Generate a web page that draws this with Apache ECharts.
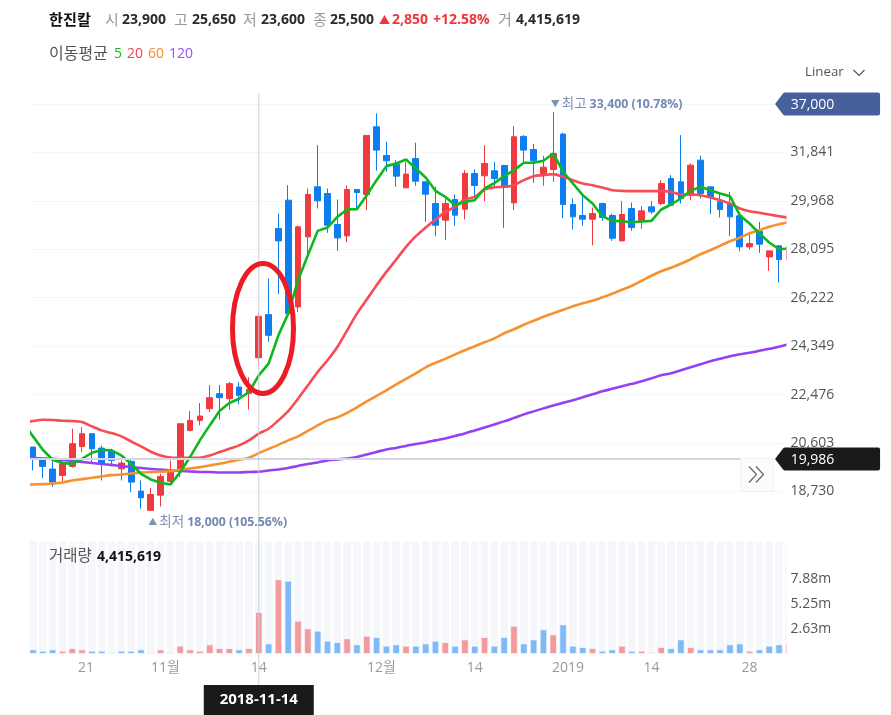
<!DOCTYPE html>
<html>
<head>
<meta charset="utf-8">
<style>
html, body { margin: 0; padding: 0; background: #fff; }
#chart { width: 891px; height: 715px; }
</style>
<script src="https://cdn.jsdelivr.net/npm/echarts@6/dist/echarts.min.js"></script>
</head>
<body>
<div id="chart"></div>
<script>
// daily candles
var opens = [20446,19956,19595,19350,19698,20472,20962,20407,20291,19607,19891,18743,18000,18588,19117,19543,21091,21478,21929,22510,
    22316,22768,22523,23900,25567,28895,29992,25864,28573,30508,30250,29050,28612,30405,30211,32830,31721,31385,30469,31605,
    30702,29863,29218,30018,29644,31024,30934,31127,31334,29889,32456,31953,30972,31179,32546,29824,29399,29257,29863,29399,
    28418,29669,29192,29734,29863,30830,30701,30185,31540,30508,29928,29863,29386,28186,28792,27799,28225,27700];
var closes = [20033,19698,19091,19801,20575,20962,20381,19827,19930,19827,19091,18485,18614,19311,19478,21349,21478,21646,22355,22355,
    22897,22445,22677,25500,24768,28418,25606,28960,30211,29966,29025,28534,30405,30289,32495,31927,31514,30921,31000,30727,
    30224,29025,29863,29411,31024,30560,31411,30830,30482,32443,31927,31514,31269,31798,29824,29347,29257,29476,29321,28521,
    29437,28934,29579,29541,30637,29798,30056,31346,30250,30095,29631,29347,28186,28315,28289,28031,27696,28200];
var lows = [19543,19246,18898,19117,19646,20252,19801,19156,19698,19156,18704,18060,18000,18150,19027,19285,21052,21284,21800,21504,
    21891,22097,21891,23600,24510,26354,25606,25670,27799,29670,28728,28031,28367,29670,29605,31127,31088,30508,30469,30547,
    29153,28599,28444,29000,29244,30120,29953,30482,28921,29605,31411,30663,30547,30701,29295,28857,28999,28250,29192,28418,
    28418,28805,28883,29450,29799,29799,29863,29992,30056,29450,29321,28612,28018,28083,27954,27257,26806,26900];
var highs = [20446,19956,19930,19930,21155,21220,20962,20510,20382,19930,19956,19156,18859,19414,19930,21349,21839,22149,22845,22845,
    22961,22961,23142,25650,26960,29476,30572,29012,30444,32120,30444,30018,30560,30405,32495,33346,32250,31540,31476,32211,
    30702,30508,30056,30211,31153,31180,32120,31476,31334,32856,32507,32159,31708,33400,32598,30056,30147,29708,29889,29476,
    29953,29902,29760,29953,30766,30960,32507,31411,31708,30508,30250,30314,29386,28766,29153,28031,28250,28500];

// moving averages start one day before the first candle, that day is cut off by the left edge
var ma5 = [21400,20859,20343,19956,19827,19801,19994,20227,20330,20317,20124,19801,19414,19195,19066,19001,19478,20059,20704,21284,21839,
    22149,22316,22574,23220,23671,24767,25606,26896,27863,28805,28934,29347,29631,29644,30185,30766,31308,31411,31566,31217,
    30869,30353,30121,29798,29927,29992,30443,30650,30921,31153,31437,31437,31514,31798,31088,30637,30185,29863,29373,29192,
    29179,29141,29166,29192,29631,29824,30056,30353,30508,30379,30250,30147,29411,29089,28702,28354,28096,28121];
var ma20 = [21380,21452,21504,21491,21465,21452,21413,21246,21091,20988,20859,20665,20472,20265,20124,20046,20033,20033,20033,20124,20252,
    20381,20510,20704,20962,21155,21478,21839,22316,22832,23348,23800,24316,24961,25606,26148,26702,27219,27696,28186,28599,
    28934,29244,29540,29734,30018,30121,30405,30490,30508,30572,30766,30921,30960,30998,30895,30766,30637,30572,30482,30379,
    30353,30340,30340,30340,30340,30315,30211,30211,30185,30095,29992,29863,29669,29566,29502,29437,29373,29308];
var ma60 = [18980,19001,19014,19040,19079,19156,19208,19259,19311,19362,19388,19427,19465,19478,19491,19517,19569,19620,19672,19737,19801,
    19879,19956,20033,20210,20375,20530,20704,20859,21071,21284,21478,21594,21768,21981,22213,22426,22639,22871,23084,23297,
    23529,23703,23858,24032,24187,24342,24496,24651,24845,24999,25174,25328,25483,25619,25754,25890,26006,26102,26238,26373,
    26528,26683,26876,27070,27244,27379,27534,27708,27902,28057,28231,28405,28540,28715,28831,28966,29063,29140];
var ma120 = [20030,20026,20007,19988,19949,19910,19872,19833,19794,19756,19717,19678,19639,19601,19581,19543,19523,19504,19485,19485,19465,
    19465,19465,19485,19492,19543,19581,19639,19717,19794,19852,19930,19968,20007,20065,20162,20259,20355,20413,20491,20568,
    20626,20704,20781,20878,20975,21091,21207,21323,21439,21574,21710,21826,21942,22058,22155,22252,22368,22484,22600,22697,
    22794,22890,22987,23103,23219,23297,23413,23529,23645,23761,23858,23955,24032,24090,24167,24245,24322,24419];

// volume in millions
var volumes = [0.49,0.35,0.49,0.35,0.63,0.49,0.35,0.35,0.21,0.35,0.35,0.49,0.21,0.49,0.21,0.88,0.49,0.35,1.02,0.63,
    0.63,0.49,0.63,4.42,1.12,7.86,7.72,3.51,2.70,2.46,1.40,1.26,1.65,1.02,1.93,1.79,0.88,1.02,0.88,0.88,
    1.12,1.40,1.26,0.88,1.54,0.88,1.79,0.88,1.79,2.98,1.12,1.54,2.60,2.07,3.12,0.88,0.74,0.63,0.35,0.49,
    0.88,0.35,0.35,0.21,0.74,0.63,1.54,0.74,0.49,0.49,0.49,1.02,1.12,0.35,0.49,0.88,1.02,1.12];
var volumeUp = [0,0,0,1,1,1,0,0,1,0, 0,0,1,1,1,1,1,1,1,1, 1,0,1,1,0,1,0,1,1,0, 0,0,1,0,1,0,0,0,1,0,
    0,0,1,0,1,0,1,0,0,1, 0,0,0,1,0,0,0,1,0,0, 1,0,1,1,1,0,0,1,0,0, 0,0,0,1,0,0,0,1];

var xTickPositions = [5.4, 13.5, 23, 35.5, 45, 54.5, 63, 73];
var xTickLabels = ['21', '11월', '14', '12월', '14', '2019', '14', '28'];
var priceTicks = [18730, 20603, 22476, 24349, 26222, 28095, 29968, 31841];
var volumeTicks = [2.63, 5.25, 7.88];

var hoverIndex = 23;
var hoverDate = '2018-11-14';
var currentPrice = 19986;
var topTickValue = 33714;
var topTickLabel = '37,000';
var highIndex = 53, highPrice = 33400, highText = '33,400 (10.78%)';
var lowIndex = 12, lowPrice = 18000, lowText = '18,000 (105.56%)';

var FONT = '"Open Sans", "Noto Sans CJK KR", sans-serif';
var RED = '#ef3a3f', BLUE = '#0d7ef0';
var XMIN = -0.306, XMAX = 76.76;
var PRICE_MIN = 16857, PRICE_MAX = 34116, PRICE_STEP = 1873;

var candleData = opens.map(function(o, i) { return [i, o, closes[i], lows[i], highs[i]]; });
function lineData(arr) { return arr.map(function(v, i) { return [i - 1, v]; }); }
var volumeData = volumes.map(function(v, i) {
    return { value: [i, v], itemStyle: { color: volumeUp[i] ? '#f4999c' : '#80b9f8' } };
});

function maSeries(name, arr, color, smooth) {
    return {
        name: name, type: 'line', data: lineData(arr), showSymbol: false, silent: true, smooth: smooth,
        lineStyle: { color: color, width: 2.6 }, z: 3
    };
}

// arrow-shaped price tag on the right side of the price axis
var tagPath = 'path://M0 11.5 L8 1 Q9 0 10 0 H103 Q105 0 105 2 V21 Q105 23 103 23 H10 Q9 23 8 22 Z';
function priceTag(value, text, color) {
    return {
        coord: [76, value], symbol: tagPath, symbolSize: [105, 23], symbolOffset: [48.5, 0],
        itemStyle: { color: color },
        label: { show: true, position: 'inside', offset: [-15, 1], formatter: text, color: '#fff', fontSize: 14, fontFamily: FONT }
    };
}
function extremeNote(index, price, arrow, word, text, dx, dy) {
    return {
        coord: [index, price], symbol: 'circle', symbolSize: 1, itemStyle: { color: 'rgba(0,0,0,0)' },
        label: {
            show: true, position: 'right', offset: [dx, dy], fontFamily: FONT,
            formatter: '{c|' + arrow + '}{a|' + word + '}{b|' + text + '}',
            rich: {
                c: { color: '#7f90b8', fontSize: 9, fontFamily: FONT, padding: [0, 2, 0, 0] },
                a: { color: '#7f90b8', fontSize: 13.5, fontFamily: FONT, padding: [0, 3, 0, 0] },
                b: { color: '#7488b6', fontSize: 12.3, fontWeight: 'bold', fontFamily: FONT }
            }
        }
    };
}

var chart = echarts.init(document.getElementById('chart'));
var option = {
    animation: false,
    backgroundColor: '#fff',
    grid: [
        { left: 30, width: 756.5, top: 93.5, height: 446.4 },
        { left: 30, width: 756.5, top: 541, height: 113 }
    ],
    xAxis: [
        { type: 'value', gridIndex: 0, min: XMIN, max: XMAX, show: false, splitLine: { show: false } },
        {
            type: 'value', gridIndex: 1, min: XMIN, max: XMAX,
            axisLine: { show: false }, axisTick: { show: false }, splitLine: { show: false },
            axisLabel: {
                customValues: xTickPositions, color: '#9a9a9a', fontSize: 14, margin: 7, fontFamily: FONT,
                formatter: function(v) { return xTickLabels[xTickPositions.indexOf(v)]; }
            }
        }
    ],
    yAxis: [
        {
            // grid lines only, they stay under the candles
            type: 'value', gridIndex: 0, position: 'right', min: PRICE_MIN, max: PRICE_MAX, interval: PRICE_STEP,
            axisLine: { show: false }, axisTick: { show: false }, axisLabel: { show: false },
            splitLine: { show: true, showMinLine: false, showMaxLine: false, lineStyle: { color: '#f5f6fa', width: 1 } }
        },
        {
            type: 'value', gridIndex: 1, position: 'right', min: 0, max: 11.89, z: 16,
            axisLine: { show: false }, axisTick: { show: false }, splitLine: { show: false },
            axisLabel: {
                customValues: volumeTicks, color: '#555', fontSize: 14, margin: 4, fontFamily: FONT,
                formatter: function(v) { return v.toFixed(2) + 'm'; }
            }
        },
        {
            // price labels, above the edge mask
            type: 'value', gridIndex: 0, position: 'right', min: PRICE_MIN, max: PRICE_MAX, interval: PRICE_STEP, z: 16,
            axisLine: { show: false }, axisTick: { show: false }, splitLine: { show: false },
            axisLabel: {
                customValues: priceTicks, color: '#555', fontSize: 14, margin: 4, padding: [3, 0, 0, 0], fontFamily: FONT,
                formatter: function(v) { return v.toLocaleString('en-US'); }
            }
        }
    ],
    series: [
        {
            type: 'candlestick', name: '한진칼', data: candleData, barWidth: 6.2, silent: true,
            itemStyle: { color: RED, color0: BLUE, borderColor: RED, borderColor0: BLUE, borderWidth: 1 },
            markLine: {
                silent: true, symbol: 'none', label: { show: false }, animation: false,
                lineStyle: { color: '#d4d7e1', width: 2, type: 'solid' },
                data: [[{ coord: [XMIN, currentPrice] }, { coord: [72.1, currentPrice] }]]
            },
            markPoint: {
                silent: true, animation: false, z: 17,
                data: [
                    priceTag(topTickValue, topTickLabel, '#47609c'),
                    priceTag(currentPrice, currentPrice.toLocaleString('en-US'), '#1a1a1a'),
                    extremeNote(highIndex, highPrice, '▼', '최고', highText, -8, -8),
                    extremeNote(lowIndex, lowPrice, '▲', '최저', lowText, -8, 12)
                ]
            }
        },
        maSeries('120', ma120, '#9441f4', 0.3),
        maSeries('60', ma60, '#f7912e', 0.3),
        maSeries('20', ma20, '#f84b55', 0.3),
        maSeries('5', ma5, '#0cb81e', false),
        {
            type: 'bar', name: '거래량', xAxisIndex: 1, yAxisIndex: 1, data: volumeData, barWidth: 7.6, silent: true,
            showBackground: true, backgroundStyle: { color: '#f5f7fb' },
            itemStyle: { borderColor: 'rgba(245,247,251,0.8)', borderWidth: 1 }
        }
    ]
};
chart.setOption(option);

function label(x, y, text, color, weight, size) {
    return {
        type: 'text', x: x, y: y, z: 20,
        style: {
            text: text, fill: color, verticalAlign: 'middle',
            font: (weight || 'normal') + ' ' + (size || 14) + 'px ' + FONT
        }
    };
}

// header rows, hover line and the hand-drawn circle sit on top of the chart
var crossX = chart.convertToPixel({ xAxisIndex: 0 }, hoverIndex);
var DARK = '#2b2b2b', GREY = '#999';
chart.setOption({
    graphic: [
        // masks: bars and candles past the plot edges
        { type: 'rect', z: 15, shape: { x: 786.5, y: 90, width: 14, height: 570 }, style: { fill: '#fff' } },
        { type: 'rect', z: 15, shape: { x: 20, y: 90, width: 10, height: 570 }, style: { fill: '#fff' } },

        label(49, 20.5, '한진칼', '#111', 'bold', 15.2),
        label(105, 20.5, '시', GREY, 'normal', 15), label(122, 20.5, '23,900', DARK, 'bold'),
        label(174, 20.5, '고', GREY, 'normal', 15), label(192, 20.5, '25,650', DARK, 'bold'),
        label(243, 20.5, '저', GREY, 'normal', 15), label(261, 20.5, '23,600', DARK, 'bold'),
        label(313, 20.5, '종', GREY, 'normal', 15), label(330, 20.5, '25,500', DARK, 'bold'),
        label(379, 20.5, '▲', '#f0353c', 'normal', 11),
        label(392, 20.5, '2,850', '#f0353c', 'bold'),
        label(433, 20.5, '+12.58%', '#f0353c', 'bold'),
        label(498, 20.5, '거', GREY, 'normal', 15), label(516, 20.5, '4,415,619', DARK, 'bold'),

        label(49, 54, '이동평균', '#555', 'normal', 16),
        label(114, 54, '5', '#11c21f'), label(127, 54, '20', '#f7404c'),
        label(148, 54, '60', '#f98a24'), label(169, 54, '120', '#9a4dff'),

        label(805, 72, 'Linear', '#555', 'normal', 13.3),
        { type: 'polyline', z: 20, shape: { points: [[853.5, 70], [859, 75.5], [864.5, 70]] }, style: { fill: 'none', stroke: '#555', lineWidth: 1.2 } },

        label(49, 557, '거래량', '#555', 'normal', 15.5),
        label(97, 557, '4,415,619', '#111', 'bold'),

        { type: 'line', z: 12, shape: { x1: crossX, y1: 93, x2: crossX, y2: 685 }, style: { stroke: '#cdd0da', lineWidth: 1 } },
        { type: 'rect', z: 20, shape: { x: crossX - 55, y: 685, width: 110, height: 30 }, style: { fill: '#1a1a1a' } },
        {
            type: 'text', z: 21, x: crossX, y: 700,
            style: { text: hoverDate, fill: '#fff', align: 'center', verticalAlign: 'middle', font: 'bold 15px ' + FONT }
        },

        { type: 'rect', z: 15, shape: { x: 741, y: 458.5, width: 32, height: 33, r: 2 }, style: { fill: '#fbfcfe', stroke: '#eef0f5', lineWidth: 1 } },
        { type: 'polyline', z: 16, shape: { points: [[749, 466.5], [756.5, 474.5], [749, 482.5]] }, style: { fill: 'none', stroke: '#666', lineWidth: 1.2 } },
        { type: 'polyline', z: 16, shape: { points: [[756, 466.5], [763.5, 474.5], [756, 482.5]] }, style: { fill: 'none', stroke: '#666', lineWidth: 1.2 } },

        { type: 'ellipse', z: 18, shape: { cx: 263, cy: 328.4, rx: 30.5, ry: 65 }, style: { fill: 'none', stroke: '#ed1c24', lineWidth: 5 } }
    ]
});
</script>
</body>
</html>
